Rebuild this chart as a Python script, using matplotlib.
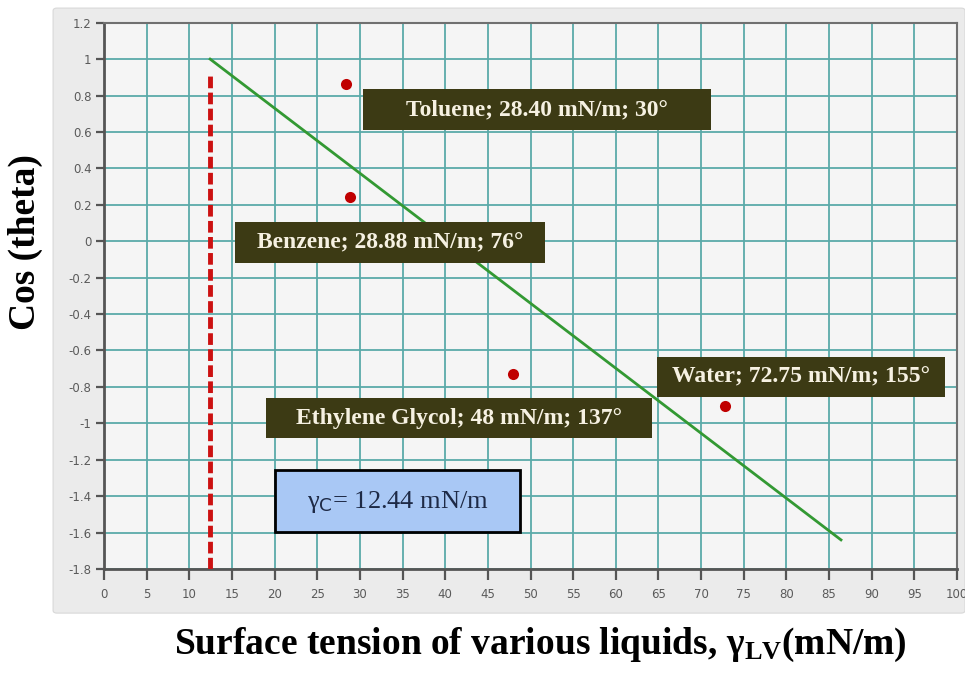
import numpy as np
import matplotlib.pyplot as plt
from matplotlib.patches import FancyBboxPatch, Rectangle

# measured liquids
liquids = ["Toluene", "Benzene", "Ethylene Glycol", "Water"]
surface_tension = [28.40, 28.88, 48, 72.75]   # mN/m
contact_angle = [30, 76, 137, 155]            # degrees
tension_text = ["28.40", "28.88", "48", "72.75"]

# Zisman fit line and critical surface tension
trend_x = [12.44, 86.4]
trend_y = [1.0, -1.64]
critical_tension = 12.44
critical_y = [-1.8, 0.93]

x_ticks = list(range(0, 101, 5))
y_ticks = [1.2, 1, 0.8, 0.6, 0.4, 0.2, 0, -0.2, -0.4, -0.6, -0.8, -1, -1.2, -1.4, -1.6, -1.8]

# label boxes: (x0, x1, y0, y1) in data units
label_boxes = [
    (30.4, 71.2, 0.610, 0.835),
    (15.4, 51.7, -0.121, 0.104),
    (19.0, 64.2, -1.082, -0.863),
    (64.8, 98.6, -0.857, -0.637),
]

plt.rcParams["mathtext.fontset"] = "custom"
plt.rcParams["mathtext.rm"] = "Liberation Serif"
plt.rcParams["mathtext.it"] = "Liberation Serif:italic"
plt.rcParams["mathtext.bf"] = "Liberation Serif:bold"
plt.rcParams["mathtext.sf"] = "DejaVu Sans"

fig = plt.figure(figsize=(9.65, 6.73), dpi=100, facecolor="white")

# grey chart panel behind the plot area
panel = FancyBboxPatch((0.055, 0.089), 0.945, 0.899, boxstyle="round,pad=0,rounding_size=0.004",
                       transform=fig.transFigure, facecolor="#ebebeb", edgecolor="#d8d8d8",
                       linewidth=0.8, zorder=-10)
fig.patches.append(panel)

ax = fig.add_axes([0.1078, 0.1545, 0.8839, 0.8118])
ax.set_zorder(1)
ax.set_facecolor("#f5f5f5")
ax.set_xlim(0, 100)
ax.set_ylim(-1.8, 1.2)

ax.set_xticks(x_ticks)
ax.set_xticklabels([str(t) for t in x_ticks])
ax.set_yticks(y_ticks)
ax.set_yticklabels([f"{t:g}" for t in y_ticks])
ax.tick_params(axis="both", colors="#555555", labelcolor="#5a5a5a", labelsize=8.5,
               direction="out", width=1.6)
ax.tick_params(axis="x", length=8, pad=6)
ax.tick_params(axis="y", length=6, pad=3)
for lab in ax.get_xticklabels() + ax.get_yticklabels():
    lab.set_fontfamily("DejaVu Sans")

ax.grid(True, color="#5aaaa9", linewidth=1.3)
ax.set_axisbelow(True)
for side in ["left", "bottom"]:
    ax.spines[side].set_color("#555555")
    ax.spines[side].set_linewidth(2)
for side in ["top", "right"]:
    ax.spines[side].set_color("#707070")
    ax.spines[side].set_linewidth(1.5)

# critical surface tension marker
ax.plot([critical_tension, critical_tension], critical_y, color="#cc1111",
        linewidth=3.5, dashes=(2.4, 0.9), solid_capstyle="butt", zorder=3)

# fitted line
ax.plot(trend_x, trend_y, color="#339933", linewidth=2, zorder=3)

cos_theta = np.cos(np.radians(contact_angle))
ax.plot(surface_tension, cos_theta, "o", color="#c00000", markersize=8,
        markeredgewidth=0, zorder=4)

for name, t, ang, (x0, x1, y0, y1) in zip(liquids, tension_text, contact_angle, label_boxes):
    ax.add_patch(Rectangle((x0, y0), x1 - x0, y1 - y0, facecolor="#3c3a14",
                           edgecolor="none", zorder=5))
    ax.text((x0 + x1) / 2, (y0 + y1) / 2, f"{name}; {t} mN/m; {ang}°",
            ha="center", va="center", fontsize=17, fontweight="bold",
            family="Liberation Serif", color="#f6f1e2", zorder=6)

# critical surface tension value
ax.add_patch(Rectangle((20.0, -1.599), 28.8, 0.341, facecolor="#a9c8f5",
                       edgecolor="black", linewidth=2, zorder=5))
ax.text(34.4, -1.43, f"γ$_{{\\mathsf{{C}}}}$= {critical_tension} mN/m",
        ha="center", va="center", fontsize=19, family="Liberation Serif",
        color="#1e2a46", zorder=6)

fig.text(0.56, 0.042, "Surface tension of various liquids, γ$_{\\mathbf{LV}}$(mN/m)",
         ha="center", va="center", fontsize=27, fontweight="bold",
         family="Liberation Serif")
fig.text(0.026, 0.64, "Cos (theta)", rotation=90, ha="center", va="center",
         fontsize=27, fontweight="bold", family="Liberation Serif")

fig.savefig("out.png", dpi=100)
